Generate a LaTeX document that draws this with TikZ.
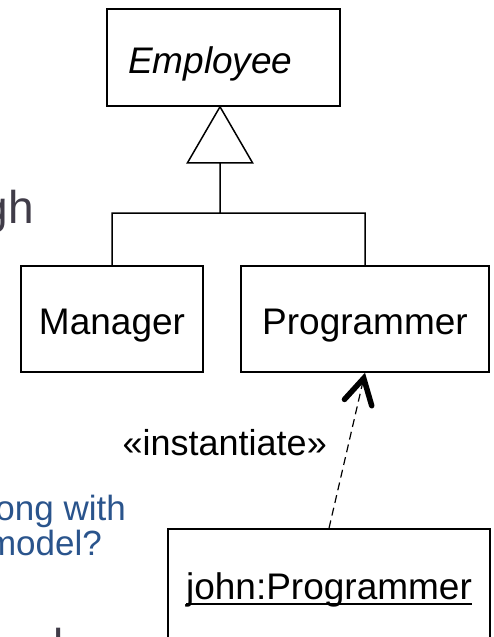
\documentclass[tikz,border=0pt]{standalone}
\usepackage{fontspec}
\setmainfont{Liberation Sans}
\usetikzlibrary{arrows.meta}
\definecolor{slidegray}{RGB}{64,60,72}
\definecolor{slideblue}{RGB}{42,84,140}
\newsavebox\objbox
\newcommand\objname[1]{\sbox\objbox{#1}\rlap{\rule[-5.5pt]{\wd\objbox}{1.6pt}}\usebox\objbox}

\begin{document}
\begin{tikzpicture}[x=1pt,y=-1pt,
	cls/.style={draw,line width=1.5pt,fill=white,inner sep=0pt,minimum height=106pt,text height=37pt,text depth=6pt,font=\fontsize{37}{40}\selectfont},
	dep/.style={line width=1.2pt,dash pattern=on 8pt off 5pt,-{Straight Barb[length=25pt,width=28pt,line width=5.5pt 0,line cap=round]}},
	slide/.style={inner sep=0pt,anchor=base east}]
\useasboundingbox(0,0)rectangle(493,637);
% slide text behind the diagram
\node[slide,text=slidegray,font=\fontsize{46}{50}\selectfont](title)at(34,223){gh};
\node[slide,text=slideblue,font=\fontsize{35}{38}\selectfont](q1)at(126,520){ong with};
\node[slide,text=slideblue,font=\fontsize{35}{38}\selectfont](q2)at(102,555){model?};
\node[slide,anchor=base west,text=slidegray,font=\fontsize{46}{50}\selectfont](rest)at(53,661){l};
% classes
\node[cls,minimum height=97pt,text width=191pt,align=left,inner xsep=21pt,font=\fontsize{37}{40}\selectfont\itshape](emp)at(223.5,57.5){Employee};
\node[cls,minimum width=182pt](mgr)at(112,319){Manager};
\node[cls,minimum width=248pt](prg)at(365,319){Programmer};
\node[cls,minimum width=322pt,minimum height=110pt](john)at(329,584){\objname{john:Programmer}};
% generalization
\coordinate(fork)at(220,213);
\draw[line width=1.5pt]
	(fork|-emp.south)--++(-32.5,56)--++(65,0)--cycle
	(fork)--++(0,-51)
	(mgr.north)|-(fork)-|(prg.north);
% instantiation
\draw[dep](john.north)--(prg.south);
\node[slide,font=\fontsize{36}{40}\selectfont](inst)at(327,455){«instantiate»};
\end{tikzpicture}
\end{document}
